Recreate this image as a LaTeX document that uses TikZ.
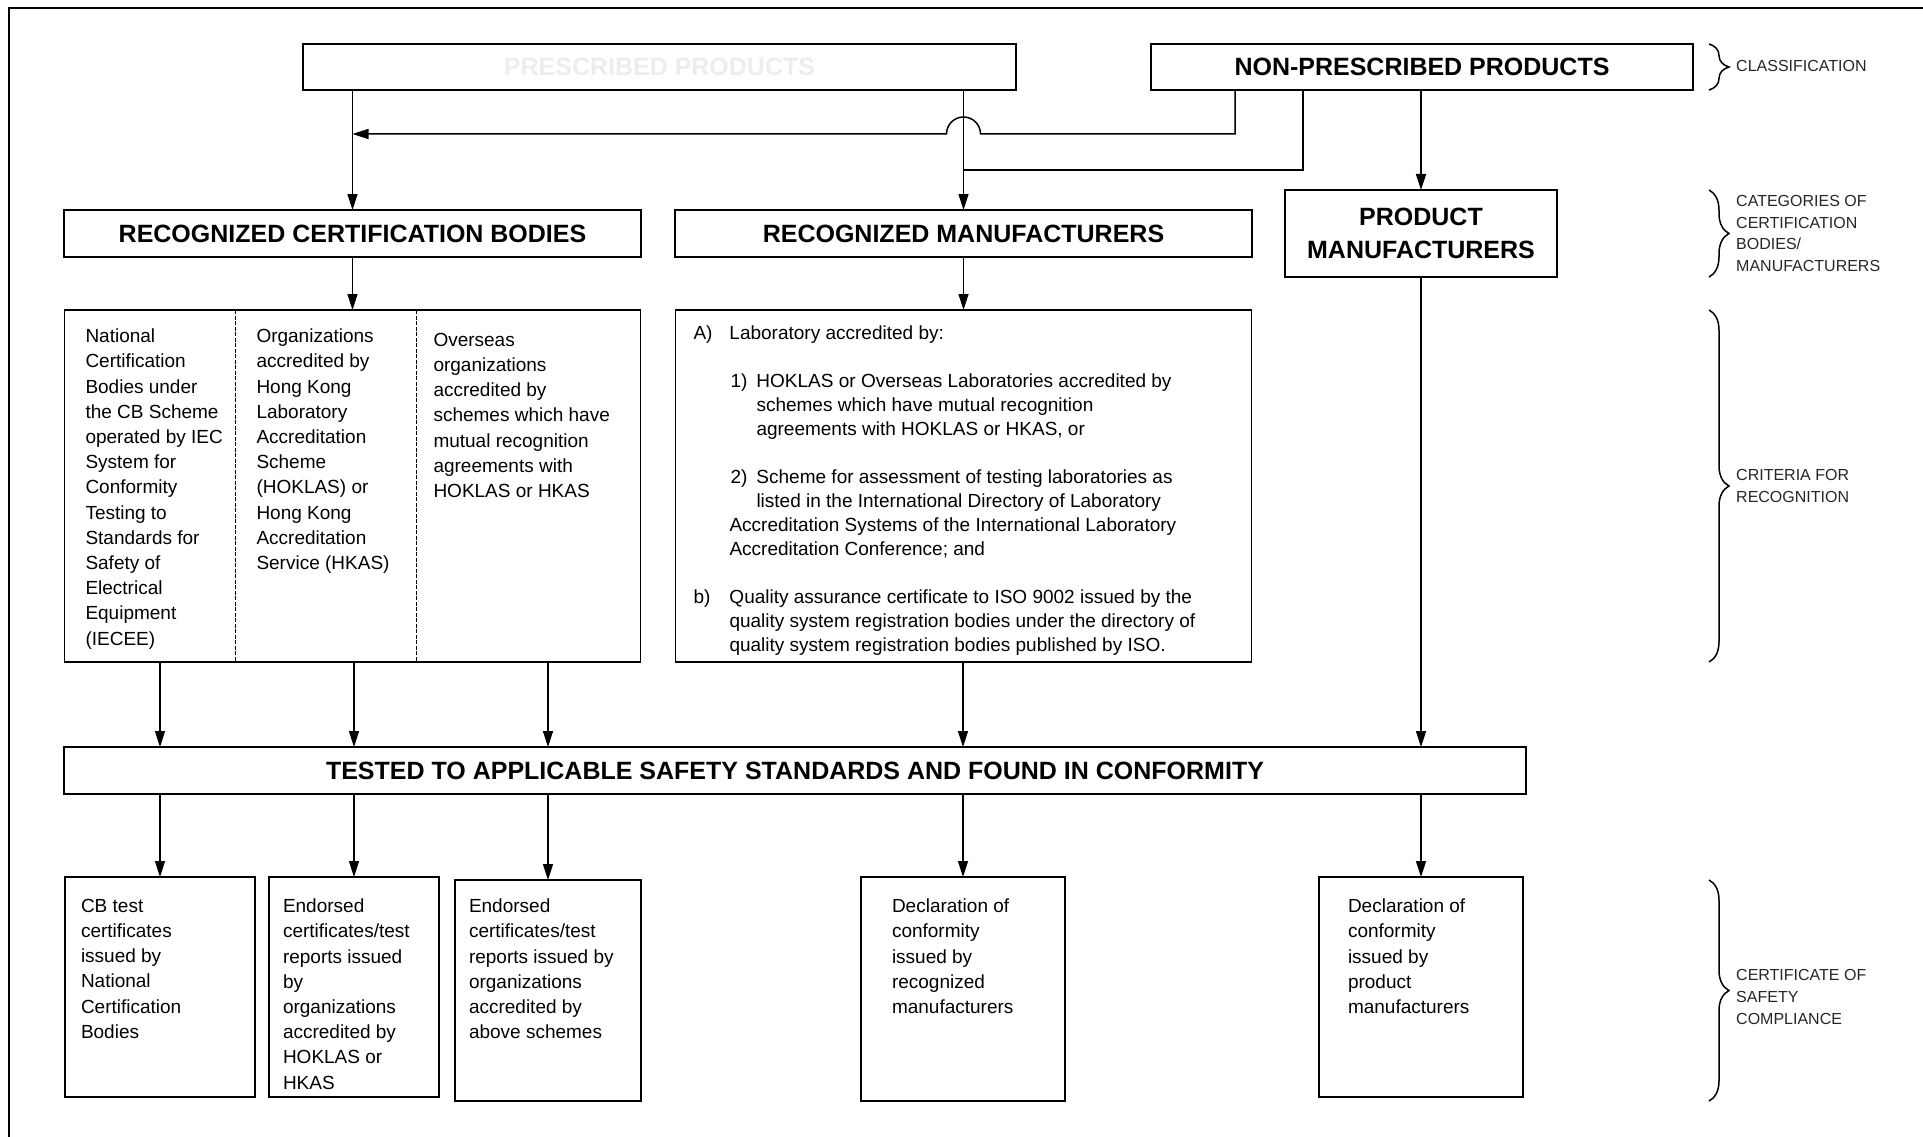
\documentclass[tikz,border=0pt]{standalone}
\usepackage{fontspec}
\setmainfont{Liberation Sans}
\usepackage{tikz}
\usetikzlibrary{
    arrows.meta,
    positioning,
    decorations.pathreplacing,
}

\begin{document}
\begin{tikzpicture}[
        x=1pt, y=-1pt,
        >={Triangle[length=16pt, width=10pt]},
        box/.style={
            rectangle, draw=black, line width=1.5pt,
            inner sep=0pt, outer sep=0pt
        },
        headbox/.style={
            box, font=\fontsize{25}{33}\selectfont\bfseries, align=center
        },
        blurb/.style={
            inner sep=0pt, outer sep=0pt, anchor=north west, align=left,
            font=\fontsize{19}{25.2}\selectfont
        },
        arrow/.style={->, line width=1.5pt},
        divider/.style={line width=0.9pt, dash pattern=on 4pt off 1.5pt},
        brace/.style={decorate, decoration={brace, amplitude=20pt}, line width=1.5pt},
        tag/.style={
            anchor=west, align=left, inner sep=0pt,
            font=\fontsize{16}{21.7}\selectfont, text=black!85
        },
    ]

    \useasboundingbox (0,0) rectangle (1923,1137);

    % ── Frame ──
    \draw[line width=1.5pt] (1923,8) -- (9,8) -- (9,1137);

    % ── Classification ──
    \node[headbox, minimum width=713pt, minimum height=46pt, text=black!7] (presc) at (659.5,67)
        {PRESCRIBED PRODUCTS};
    \node[headbox, minimum width=542pt, minimum height=46pt] (nonpresc) at (1422,67)
        {NON-PRESCRIBED PRODUCTS};

    % ── Certification bodies / manufacturers ──
    \node[headbox, minimum width=577pt, minimum height=47pt] (rcb) at (352.5,233.5)
        {RECOGNIZED CERTIFICATION BODIES};
    \node[headbox, minimum width=577pt, minimum height=47pt, right=34pt of rcb] (rm)
        {RECOGNIZED MANUFACTURERS};
    \node[headbox, minimum width=272pt, minimum height=87pt] (pm) at (1421,233.5)
        {PRODUCT\\MANUFACTURERS};

    % ── Criteria ──
    \node[box, minimum width=576pt, minimum height=352pt, below=53pt of rcb] (rcbcrit) {};
    \node[box, minimum width=576pt, minimum height=352pt, below=53pt of rm] (rmcrit) {};
    \draw[divider] ([xshift=171pt]rcbcrit.north west) -- ([xshift=171pt]rcbcrit.south west);
    \draw[divider] ([xshift=352pt]rcbcrit.north west) -- ([xshift=352pt]rcbcrit.south west);

    \node[blurb, below right=19pt and 21pt of rcbcrit.north west] (natcb)
        {National\\Certification\\Bodies under\\the CB Scheme\\operated by IEC\\System for\\Conformity\\Testing to\\Standards for\\Safety of\\Electrical\\Equipment\\(IECEE)};
    \node[blurb, below right=19pt and 192pt of rcbcrit.north west] (hkorg)
        {Organizations\\accredited by\\Hong Kong\\Laboratory\\Accreditation\\Scheme\\(HOKLAS) or\\Hong Kong\\Accreditation\\Service (HKAS)};
    \node[blurb, below right=23pt and 369pt of rcbcrit.north west] (osorg)
        {Overseas\\organizations\\accredited by\\schemes which have\\mutual recognition\\agreements with\\HOKLAS or HKAS};

    \node[blurb, font=\fontsize{19}{24}\selectfont, below right=16pt and 18pt of rmcrit.north west] (rmtext)
        {\makebox[36pt][l]{A)}Laboratory accredited by:\\[24pt]
         \hspace*{37pt}\makebox[26pt][l]{1)}HOKLAS or Overseas Laboratories accredited by\\
         \hspace*{63pt}schemes which have mutual recognition\\
         \hspace*{63pt}agreements with HOKLAS or HKAS, or\\[24pt]
         \hspace*{37pt}\makebox[26pt][l]{2)}Scheme for assessment of testing laboratories as\\
         \hspace*{63pt}listed in the International Directory of Laboratory\\
         \hspace*{36pt}Accreditation Systems of the International Laboratory\\
         \hspace*{36pt}Accreditation Conference; and\\[24pt]
         \makebox[36pt][l]{b)}Quality assurance certificate to ISO 9002 issued by the\\
         \hspace*{36pt}quality system registration bodies under the directory of\\
         \hspace*{36pt}quality system registration bodies published by ISO.};

    % ── Testing ──
    \node[headbox, minimum width=1462pt, minimum height=47pt] (tested) at (795,770.5)
        {TESTED TO APPLICABLE SAFETY STANDARDS AND FOUND IN CONFORMITY};

    % ── Certificates ──
    \node[box, minimum width=190pt, minimum height=220pt] (cert1) at (160,987) {};
    \node[box, minimum width=170pt, minimum height=220pt] (cert2) at (354,987) {};
    \node[box, minimum width=186pt, minimum height=221pt] (cert3) at (548,990.5) {};
    \node[box, minimum width=204pt, minimum height=224pt] (cert4) at (963,989) {};
    \node[box, minimum width=204pt, minimum height=220pt] (cert5) at (1421,987) {};

    \node[blurb, below right=22pt and 16pt of cert1.north west] (cert1text)
        {CB test\\certificates\\issued by\\National\\Certification\\Bodies};
    \node[blurb, below right=22pt and 14pt of cert2.north west] (cert2text)
        {Endorsed\\certificates/test\\reports issued\\by\\organizations\\accredited by\\HOKLAS or\\HKAS};
    \node[blurb, below right=19pt and 14pt of cert3.north west] (cert3text)
        {Endorsed\\certificates/test\\reports issued by\\organizations\\accredited by\\above schemes};
    \node[blurb, below right=22pt and 31pt of cert4.north west] (cert4text)
        {Declaration of\\conformity\\issued by\\recognized\\manufacturers};
    \node[blurb, below right=22pt and 29pt of cert5.north west] (cert5text)
        {Declaration of\\conformity\\issued by\\product\\manufacturers};

    % ── Arrows ──
    \coordinate (trunkA) at (rcb.north |- 0,134);
    \coordinate (hop) at (rm.north |- 0,134);
    \coordinate (trunkB) at (rm.north |- 0,170);

    \draw[arrow] (presc.south -| rcb.north) -- (rcb.north);
    \draw[arrow] (presc.south -| rm.north) -- (rm.north);
    \draw[arrow] ([xshift=84pt]nonpresc.south west) |- ([xshift=17pt]hop)
        arc[start angle=0, end angle=180, radius=17pt] -- (trunkA);
    \draw[line width=1.5pt] ([xshift=152pt]nonpresc.south west) |- (trunkB);
    \draw[arrow] (nonpresc.south -| pm.north) -- (pm.north);

    \draw[arrow] (rcb.south) -- (rcbcrit.north);
    \draw[arrow] (rm.south) -- (rmcrit.north);

    \draw[arrow] (rcbcrit.south -| cert1.north) -- (cert1.north |- tested.north);
    \draw[arrow] (rcbcrit.south -| cert2.north) -- (cert2.north |- tested.north);
    \draw[arrow] (rcbcrit.south -| cert3.north) -- (cert3.north |- tested.north);
    \draw[arrow] (rmcrit.south -| cert4.north) -- (cert4.north |- tested.north);
    \draw[arrow] (pm.south) -- (pm.south |- tested.north);

    \draw[arrow] (tested.south -| cert1.north) -- (cert1.north);
    \draw[arrow] (tested.south -| cert2.north) -- (cert2.north);
    \draw[arrow] (tested.south -| cert3.north) -- (cert3.north);
    \draw[arrow] (tested.south -| cert4.north) -- (cert4.north);
    \draw[arrow] (tested.south -| cert5.north) -- (cert5.north);

    % ── Braces and labels at the right ──
    \draw[brace] (1709,44) -- (1709,90);
    \draw[brace] (1709,190) -- (1709,277);
    \draw[brace] (1709,310) -- (1709,662);
    \draw[brace] (1709,880) -- (1709,1101);

    \node[tag] (classtag) at (1736,66) {CLASSIFICATION};
    \node[tag] (cattag) at (1736,233.5) {CATEGORIES OF\\CERTIFICATION\\BODIES/\\MANUFACTURERS};
    \node[tag] (crittag) at (1736,486) {CRITERIA FOR\\RECOGNITION};
    \node[tag] (safetag) at (1736,997) {CERTIFICATE OF\\SAFETY\\COMPLIANCE};

\end{tikzpicture}
\end{document}
